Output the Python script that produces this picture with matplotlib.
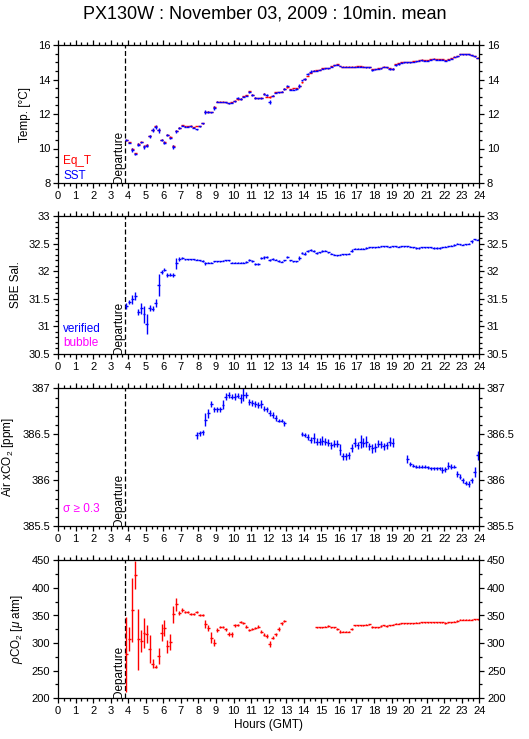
import numpy as np
import matplotlib
matplotlib.use("Agg")
import matplotlib.pyplot as plt
from matplotlib.ticker import MultipleLocator, FormatStrFormatter

plt.rcParams['font.family'] = ['Liberation Sans', 'DejaVu Sans']
plt.rcParams['mathtext.fontset'] = 'custom'
plt.rcParams['mathtext.rm'] = 'Liberation Sans'
plt.rcParams['mathtext.it'] = 'Liberation Sans:italic'

nan = np.nan

# 10-min means, first bin centred at 3.9 h GMT
t0 = 3.9
dt = 1 / 6

sst = [10.50, 10.33, 9.92, 9.70, 10.23, 10.35,
       10.10, 10.17, 10.70, 11.05, 11.25, 11.05,
       10.50, 10.33, 10.78, 10.60, 10.10, 11.00,
       11.18, 11.32, 11.27, 11.25, 11.28, 11.20,
       11.12, 11.28, 11.45, 12.12, 12.12, 12.10,
       12.37, 12.70, 12.70, 12.70, 12.68, 12.62,
       12.66, 12.75, 12.92, 12.85, 13.00, 13.05,
       13.28, 13.10, 12.92, 12.90, 12.92, 13.15,
       13.10, 12.68, 13.05, 13.22, 13.25, 13.28,
       13.45, 13.65, 13.40, 13.40, 13.45, 13.62,
       13.95, 14.05, 14.30, 14.45, 14.50, 14.52,
       14.55, 14.62, 14.65, 14.65, 14.75, 14.82,
       14.85, 14.78, 14.72, 14.72, 14.72, 14.72,
       14.72, 14.75, 14.75, 14.72, 14.70, 14.70,
       14.55, 14.58, 14.62, 14.65, 14.72, 14.70,
       14.62, 14.60, 14.85, 14.90, 14.98, 15.00,
       15.00, 15.00, 15.02, 15.05, 15.10, 15.12,
       15.10, 15.10, 15.15, 15.18, 15.15, 15.15,
       15.15, 15.10, 15.15, 15.20, 15.30, 15.35,
       15.45, 15.45, 15.45, 15.45, 15.40, 15.35,
       15.25]
sst_sd = [0.05, 0.03, 0.10, 0.05, 0.08, 0.05,
          0.10, 0.10, 0.10, 0.12, 0.10, 0.15,
          0.05, 0.08, 0.05, 0.05, 0.10, 0.08,
          0.05, 0.03, 0.03, 0.03, 0.03, 0.03,
          0.03, 0.03, 0.05, 0.10, 0.05, 0.03,
          0.12, 0.03, 0.02, 0.02, 0.03, 0.03,
          0.03, 0.03, 0.05, 0.05, 0.03, 0.03,
          0.05, 0.05, 0.05, 0.05, 0.03, 0.05,
          0.05, 0.12, 0.03, 0.03, 0.02, 0.03,
          0.05, 0.05, 0.03, 0.03, 0.03, 0.10,
          0.05, 0.05, 0.05, 0.10, 0.03, 0.02,
          0.02, 0.02, 0.02, 0.02, 0.03, 0.02,
          0.02, 0.02, 0.02, 0.02, 0.02, 0.02,
          0.02, 0.02, 0.02, 0.02, 0.02, 0.02,
          0.03, 0.02, 0.02, 0.02, 0.02, 0.02,
          0.05, 0.05, 0.05, 0.05, 0.03, 0.02,
          0.02, 0.02, 0.02, 0.02, 0.02, 0.02,
          0.02, 0.02, 0.02, 0.02, 0.02, 0.02,
          0.02, 0.02, 0.02, 0.02, 0.02, 0.02,
          0.02, 0.02, 0.02, 0.02, 0.03, 0.02,
          0.02]
eq_t = [10.48, 10.37, 9.97, 9.74, 10.26, 10.40,
        10.12, 10.20, 10.72, 11.07, 11.28, 11.08,
        10.52, 10.36, 10.80, 10.68, 10.15, 11.03,
        11.20, 11.36, 11.30, 11.28, 11.33, 11.23,
        11.30, 11.30, 11.47, 12.14, 12.14, 12.12,
        12.39, 12.72, 12.72, 12.72, 12.70, 12.65,
        12.68, 12.78, 12.85, 12.88, 13.02, 13.08,
        13.33, 13.12, 12.95, 12.93, 12.95, 13.18,
        13.00, 13.00, 13.07, 13.25, 13.27, 13.30,
        13.47, 13.55, 13.43, 13.50, 13.50, 13.62,
        13.85, 14.02, 14.20, 14.40, 14.52, 14.55,
        14.57, 14.65, 14.67, 14.67, 14.78, 14.85,
        14.88, 14.80, 14.75, 14.75, 14.75, 14.75,
        14.75, 14.78, 14.78, 14.75, 14.73, 14.73,
        14.58, 14.61, 14.65, 14.68, 14.75, 14.73,
        14.65, 14.63, 14.88, 14.93, 15.01, 15.03,
        15.03, 15.03, 15.05, 15.08, 15.13, 15.15,
        15.13, 15.13, 15.18, 15.21, 15.18, 15.18,
        15.18, 15.13, 15.18, 15.23, 15.33, 15.38,
        15.48, 15.48, 15.48, 15.48, 15.43, 15.38,
        15.27]

sal = [31.37, 31.44, 31.49, 31.55, 31.26, 31.33,
       31.22, 31.05, 31.33, 31.32, 31.42, 31.75,
       31.99, 32.03, 31.93, 31.94, 31.93, 32.14,
       32.22, 32.24, 32.22, 32.22, 32.22, 32.22,
       32.21, 32.20, 32.18, 32.14, 32.15, 32.15,
       32.18, 32.18, 32.18, 32.19, 32.20, 32.20,
       32.15, 32.15, 32.15, 32.15, 32.15, 32.17,
       32.20, 32.18, 32.13, 32.13, 32.24, 32.25,
       32.26, 32.20, 32.22, 32.21, 32.18, 32.17,
       32.20, 32.26, 32.20, 32.18, 32.18, 32.24,
       32.33, 32.32, 32.36, 32.38, 32.36, 32.33,
       32.34, 32.37, 32.37, 32.34, 32.32, 32.30,
       32.29, 32.30, 32.31, 32.31, 32.32, 32.37,
       32.41, 32.41, 32.41, 32.41, 32.42, 32.43,
       32.43, 32.43, 32.44, 32.45, 32.45, 32.45,
       32.44, 32.45, 32.45, 32.44, 32.45, 32.45,
       32.45, 32.44, 32.43, 32.42, 32.42, 32.43,
       32.43, 32.43, 32.43, 32.42, 32.42, 32.42,
       32.43, 32.44, 32.45, 32.46, 32.48, 32.50,
       32.49, 32.48, 32.49, 32.50, 32.54, 32.58,
       32.57]
sal_sd = [0.05, 0.04, 0.08, 0.08, 0.06, 0.10,
          0.15, 0.18, 0.05, 0.05, 0.07, 0.20,
          0.04, 0.03, 0.03, 0.03, 0.03, 0.10,
          0.03, 0.01, 0.01, 0.01, 0.01, 0.01,
          0.01, 0.01, 0.02, 0.02, 0.01, 0.01,
          0.01, 0.01, 0.01, 0.01, 0.01, 0.01,
          0.01, 0.01, 0.01, 0.01, 0.01, 0.02,
          0.02, 0.02, 0.01, 0.01, 0.02, 0.02,
          0.02, 0.02, 0.02, 0.01, 0.02, 0.01,
          0.01, 0.02, 0.01, 0.01, 0.01, 0.03,
          0.02, 0.02, 0.02, 0.02, 0.02, 0.01,
          0.01, 0.02, 0.01, 0.01, 0.01, 0.01,
          0.01, 0.01, 0.01, 0.01, 0.01, 0.03,
          0.01, 0.01, 0.01, 0.01, 0.01, 0.01,
          0.01, 0.01, 0.01, 0.01, 0.01, 0.01,
          0.01, 0.01, 0.01, 0.01, 0.01, 0.01,
          0.01, 0.01, 0.01, 0.01, 0.01, 0.01,
          0.01, 0.01, 0.01, 0.01, 0.01, 0.01,
          0.01, 0.01, 0.01, 0.01, 0.02, 0.01,
          0.01, 0.01, 0.01, 0.01, 0.03, 0.01,
          0.01]

xco2 = [nan, nan, nan, nan, nan, nan,
        nan, nan, nan, nan, nan, nan,
        nan, nan, nan, nan, nan, nan,
        nan, nan, nan, nan, nan, nan,
        386.49, 386.51, 386.52, 386.66, 386.73, 386.83,
        386.77, 386.77, 386.77, 386.82, 386.91, 386.93,
        386.91, 386.91, 386.92, 386.89, 386.93, 386.93,
        386.85, 386.84, 386.83, 386.82, 386.83, 386.78,
        386.77, 386.73, 386.71, 386.68, 386.65, 386.65,
        386.62, nan, nan, nan, nan, nan,
        386.50, 386.49, 386.47, 386.44, 386.46, 386.42,
        386.42, 386.43, 386.42, 386.41, 386.38, 386.40,
        386.40, 386.33, 386.26, 386.26, 386.27, 386.35,
        386.41, 386.38, 386.42, 386.41, 386.42, 386.37,
        386.35, 386.36, 386.40, 386.39, 386.37, 386.38,
        386.42, 386.41, nan, nan, nan, nan,
        386.23, 386.18, 386.16, 386.15, 386.15, 386.15,
        386.15, 386.14, 386.13, 386.13, 386.13, 386.13,
        386.11, 386.12, 386.16, 386.15, 386.15, 386.07,
        386.04, 386.00, 385.97, 385.96, 386.00, 386.09,
        386.27]
xco2_sd = [nan, nan, nan, nan, nan, nan,
           nan, nan, nan, nan, nan, nan,
           nan, nan, nan, nan, nan, nan,
           nan, nan, nan, nan, nan, nan,
           0.04, 0.03, 0.03, 0.07, 0.05, 0.03,
           0.03, 0.03, 0.03, 0.05, 0.04, 0.03,
           0.03, 0.04, 0.03, 0.05, 0.07, 0.03,
           0.03, 0.03, 0.03, 0.03, 0.04, 0.03,
           0.03, 0.03, 0.03, 0.03, 0.02, 0.02,
           0.03, nan, nan, nan, nan, nan,
           0.02, 0.02, 0.03, 0.03, 0.05, 0.04,
           0.04, 0.05, 0.04, 0.04, 0.04, 0.04,
           0.04, 0.06, 0.04, 0.04, 0.04, 0.04,
           0.05, 0.04, 0.07, 0.05, 0.06, 0.04,
           0.05, 0.05, 0.04, 0.04, 0.04, 0.04,
           0.05, 0.05, nan, nan, nan, nan,
           0.04, 0.02, 0.02, 0.02, 0.02, 0.02,
           0.02, 0.02, 0.02, 0.02, 0.02, 0.02,
           0.03, 0.03, 0.04, 0.03, 0.02, 0.03,
           0.03, 0.03, 0.02, 0.03, 0.03, 0.05,
           0.05]

pco2 = [280, 307, 360, 423, 307, 304,
        318, 316, 289, 263, 257, 277,
        319, 327, 294, 302, 352, 370,
        355, 360, 356, 356, 353, 353,
        357, 351, 351, 334, 327, 310,
        301, 324, 329, 329, 325, 316,
        316, 332, 333, 338, 337, 330,
        324, 326, 328, 330, 321, 315,
        313, 298, 310, 316, 326, 336,
        340, nan, nan, nan, nan, nan,
        nan, nan, nan, nan, nan, 329,
        329, 329, 330, 331, 329, 329,
        325, 321, 321, 321, 321, 326,
        332, 332, 332, 332, 333, 334,
        329, 329, 329, 331, 332, 331,
        332, 333, 335, 335, 336, 336,
        336, 336, 336, 337, 337, 338,
        338, 338, 338, 338, 338, 338,
        338, 336, 338, 338, 339, 340,
        342, 342, 342, 342, 342, 343,
        343]
pco2_sd = [68, 22, 58, 25, 55, 20,
           27, 16, 25, 8, 3, 15,
           16, 15, 12, 14, 15, 12,
           4, 3, 2, 2, 2, 2,
           2, 2, 2, 7, 5, 10,
           6, 4, 2, 2, 3, 4,
           5, 3, 2, 2, 2, 3,
           2, 2, 2, 2, 3, 3,
           4, 5, 3, 3, 4, 3,
           2, nan, nan, nan, nan, nan,
           nan, nan, nan, nan, nan, 1,
           1, 1, 1, 1, 1, 1,
           2, 2, 1, 1, 1, 2,
           1, 1, 1, 1, 1, 1,
           2, 1, 1, 1, 1, 1,
           1, 1, 1, 1, 1, 1,
           1, 1, 1, 1, 1, 1,
           1, 1, 1, 1, 1, 1,
           1, 2, 1, 1, 1, 1,
           1, 1, 1, 1, 1, 1,
           1]

t = t0 + dt * np.arange(len(sst))
departure = 3.8

W, H = 529, 739
fig = plt.figure(figsize=(W / 100, H / 100), dpi=100)
fig.text(0.5, 1 - 14 / H, "PX130W : November 03, 2009 : 10min. mean",
         ha='center', va='center', fontsize=13)

left = 58 / W
width = (479.3 - 58) / W
tops = [45, 216, 388.3, 560.3]
ph = 138


def setup(ax, ylim, major, minor, ylabel):
    ax.set_xlim(0, 24)
    ax.set_ylim(*ylim)
    ax.xaxis.set_major_locator(MultipleLocator(1))
    ax.xaxis.set_minor_locator(MultipleLocator(1 / 3))
    ax.yaxis.set_major_locator(MultipleLocator(major))
    ax.yaxis.set_minor_locator(MultipleLocator(minor))
    ax.yaxis.set_major_formatter(FormatStrFormatter('%g'))
    ax.tick_params(which='both', direction='out', top=True, right=True,
                   labelright=True, labelsize=8, width=0.9, pad=2)
    ax.tick_params(which='major', length=3.5)
    ax.tick_params(which='minor', length=2)
    for s in ax.spines.values():
        s.set_linewidth(0.9)
    ax.set_ylabel(ylabel, fontsize=8.5, labelpad=5)
    ax.axvline(departure, color='k', lw=0.9, ls=(0, (4, 2)))
    ax.text(departure, ylim[0], "Departure", rotation=90, ha='right',
            va='bottom', fontsize=8.5)


def bars(ax, y, sd, color):
    ax.errorbar(t, y, yerr=sd, xerr=dt / 2, fmt='none', ecolor=color,
                elinewidth=1.0, capsize=0)


axes = []
for top in tops:
    axes.append(fig.add_axes([left, 1 - (top + ph) / H, width, ph / H]))

ax = axes[0]
setup(ax, (8, 16), 2, 0.5, "Temp. [°C]")
bars(ax, eq_t, np.array(sst_sd) * 0.5, 'red')
bars(ax, sst, sst_sd, 'blue')
ax.text(0.3, 9.1, "Eq_T", color='red', fontsize=8.5)
ax.text(0.3, 8.25, "SST", color='blue', fontsize=8.5)

ax = axes[1]
setup(ax, (30.5, 33), 0.5, 0.1, "SBE Sal.")
bars(ax, sal, sal_sd, 'blue')
ax.text(0.3, 30.9, "verified", color='blue', fontsize=8.5)
ax.text(0.3, 30.65, "bubble", color='magenta', fontsize=8.5)

ax = axes[2]
setup(ax, (385.5, 387), 0.5, 0.1, "Air xCO$_2$ [ppm]")
bars(ax, xco2, xco2_sd, 'blue')
ax.text(0.3, 385.66, "σ ≥ 0.3", color='magenta', fontsize=8.5)

ax = axes[3]
setup(ax, (200, 450), 50, 25, r"$\rho$CO$_2$ [$\mu$ atm]")
bars(ax, pco2, pco2_sd, 'red')
ax.set_xlabel("Hours (GMT)", fontsize=8.5, labelpad=2)

fig.savefig("out.png", dpi=100)
